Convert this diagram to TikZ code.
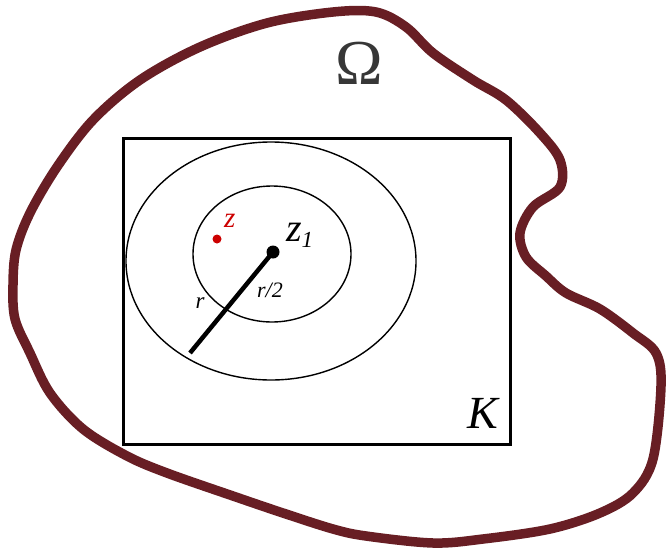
\documentclass[tikz,border=0pt]{standalone}
\usepackage{fontspec}
\setmainfont{Liberation Serif}
\definecolor{blob}{RGB}{104,30,36}
\definecolor{omgray}{RGB}{55,55,55}
\definecolor{zred}{RGB}{204,0,0}
\begin{document}
\begin{tikzpicture}[x=1pt,y=-1pt,
  lbl/.style={inner sep=0pt,outer sep=0pt},
  thinring/.style={draw=black,line width=1.4pt},
  boundary/.style={draw=blob,line width=9.5pt,line join=round,line cap=round}]
\useasboundingbox (0,0) rectangle (666,552);
% Omega boundary
\draw[boundary] plot[smooth cycle,tension=0.55] coordinates {
 (333,12) (376,12) (406,27) (433,53) (473,80) (506,100) (540,133) (560,160)
 (560,187) (533,207) (520,233) (526,257) (546,276) (566,293) (600,309)
 (633,333) (656,353) (661,386) (653,459) (633,493) (600,513) (550,529)
 (483,539) (433,543) (366,536) (333,529) (283,513) (233,496) (167,473)
 (127,456) (83,429) (50,393) (30,353) (15,319) (13,285) (16,250) (30,213)
 (57,167) (93,120) (140,80) (200,47) (267,23)};
% compact set K
\draw[line width=3pt] (123.5,138.5) rectangle (510.5,444);
% discs
\draw[thinring] (271,261) ellipse [x radius=145, y radius=119];
\draw[thinring] (272,254) ellipse [x radius=79, y radius=68];
% points
\coordinate (c) at (273,252);
\coordinate (e) at (190,353);
\draw[line width=4.5pt] (c) -- (e);
\fill (c) circle (6.5);
\fill[zred] (217,239) circle (4.5);
% labels
\node[lbl,text=omgray] (omega) at (359,63) {\fontsize{64}{68}\selectfont Ω};
\node[lbl] (K) at (483,413) {\fontsize{46}{50}\selectfont\itshape K};
\node[lbl,anchor=base west] (z1) at (286,241) {\fontsize{40}{44}\selectfont\itshape z\raisebox{-6pt}{\fontsize{23}{25}\selectfont 1}};
\node[lbl,text=zred,anchor=base west] (z) at (224,227) {\fontsize{29}{31}\selectfont\itshape z};
\node[lbl,anchor=base] (r) at (200,308) {\fontsize{23}{25}\selectfont\itshape r};
\node[lbl,anchor=base] (r2) at (270,297) {\fontsize{22}{24}\selectfont\itshape r/2};
\end{tikzpicture}
\end{document}
